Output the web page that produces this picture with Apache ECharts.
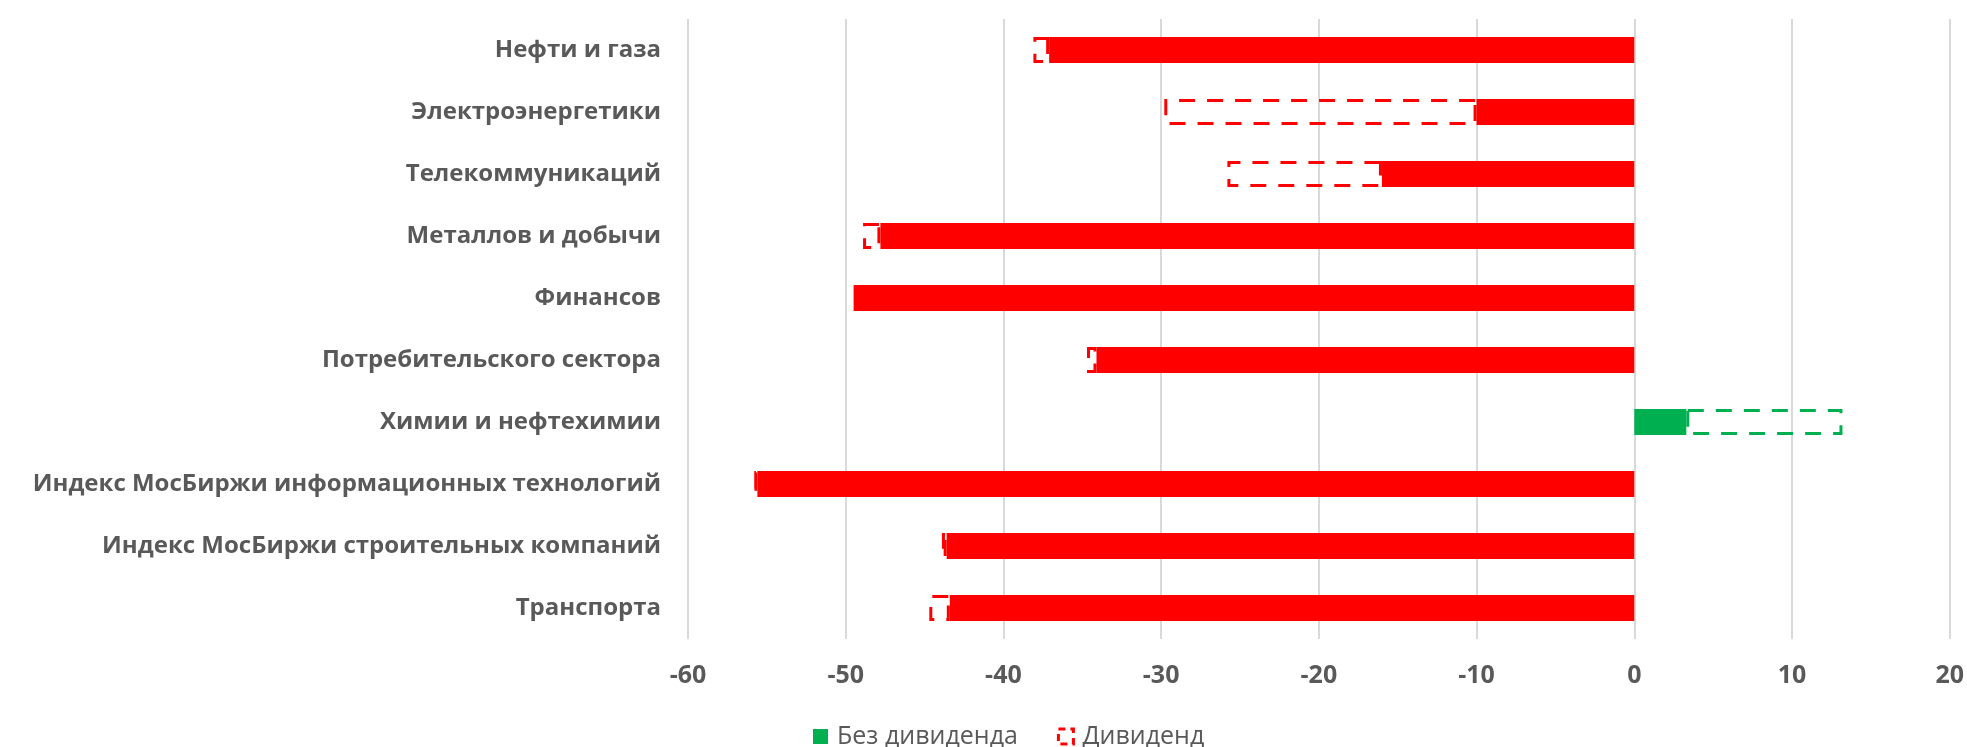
<!DOCTYPE html>
<html>
<head>
<meta charset="utf-8">
<script src="https://cdn.jsdelivr.net/npm/echarts@6/dist/echarts.min.js"></script>
<style>
  html, body { margin: 0; padding: 0; background: #ffffff; }
  #chart { width: 1967px; height: 747px; }
</style>
</head>
<body>
<div id="chart"></div>
<script>
// Sector indices, top to bottom
const categories = [
  'Нефти и газа',
  'Электроэнергетики',
  'Телекоммуникаций',
  'Металлов и добычи',
  'Финансов',
  'Потребительского сектора',
  'Химии и нефтехимии',
  'Индекс МосБиржи информационных технологий',
  'Индекс МосБиржи строительных компаний',
  'Транспорта'
];

// Price change without dividends, %
const withoutDividend = [-37.1, -10.0, -16.0, -47.8, -49.5, -34.1, 3.3, -55.6, -43.6, -43.4];

// Dividend contribution, %
const dividend = [-1.0, -19.8, -9.8, -1.1, null, -0.6, 9.9, -0.2, -0.3, -1.3];

const xTicks = { min: -60, max: 20, interval: 10 };

const RED = '#FF0000';
const GREEN = '#00B050';
const TEXT = '#595959';
const FONT = '"Open Sans", "Noto Sans", sans-serif';

const solidData = withoutDividend.map(v => ({
  value: v,
  itemStyle: { color: v < 0 ? RED : GREEN }
}));

const dashedData = dividend.map(v => ({
  value: v,
  itemStyle: {
    color: 'rgba(0,0,0,0)',
    borderColor: v !== null && v > 0 ? GREEN : RED
  }
}));

const chart = echarts.init(document.getElementById('chart'), null, { renderer: 'canvas' });

chart.setOption({
  animation: false,
  backgroundColor: '#ffffff',
  grid: { left: 688, right: 16, top: 19, bottom: 108, containLabel: false },
  legend: {
    bottom: -7,
    left: 808,
    icon: 'rect',
    itemWidth: 15,
    itemHeight: 15,
    itemGap: 39,
    textStyle: { color: TEXT, fontFamily: FONT, fontSize: 25, padding: [0, 0, 0, 4] },
    data: [
      { name: 'Без дивиденда', itemStyle: { color: GREEN } },
      { name: 'Дивиденд', itemStyle: { color: 'rgba(0,0,0,0)', borderColor: RED, borderWidth: 3, borderType: [7, 5] } }
    ]
  },
  xAxis: {
    type: 'value',
    min: xTicks.min,
    max: xTicks.max,
    interval: xTicks.interval,
    axisLine: { show: false },
    axisTick: { show: false },
    splitLine: { show: true, lineStyle: { color: '#D9D9D9', width: 2 } },
    axisLabel: {
      color: TEXT,
      fontFamily: FONT,
      fontWeight: 'bold',
      fontSize: 25,
      margin: 24
    }
  },
  yAxis: {
    type: 'category',
    inverse: true,
    data: categories,
    axisLine: { show: false },
    axisTick: { show: false },
    splitLine: { show: false },
    axisLabel: {
      color: TEXT,
      fontFamily: FONT,
      fontWeight: 'bold',
      fontSize: 24,
      margin: 27
    }
  },
  series: [
    {
      name: 'Без дивиденда',
      type: 'bar',
      stack: 'total',
      barWidth: 26,
      itemStyle: { color: GREEN },
      data: solidData
    },
    {
      name: 'Дивиденд',
      type: 'bar',
      stack: 'total',
      barWidth: 26,
      itemStyle: {
        color: 'rgba(0,0,0,0)',
        borderColor: RED,
        borderWidth: 3,
        borderType: [16, 12]
      },
      data: dashedData
    }
  ]
});
</script>
</body>
</html>
